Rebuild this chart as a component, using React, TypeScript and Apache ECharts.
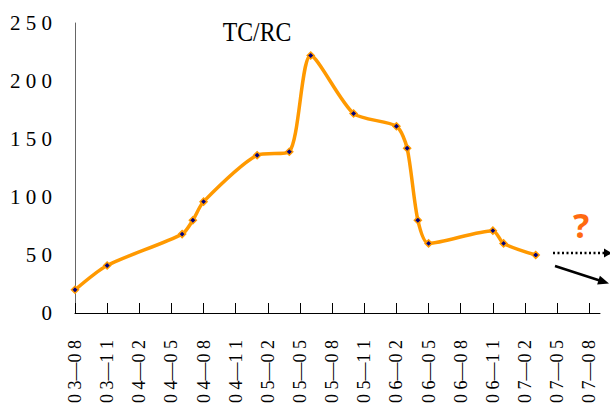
import React, { useEffect, useRef } from "react";
import * as echarts from "echarts";

// Monthly category axis, Aug 2003 through Sep 2007
const months: string[] = [];
for (let y = 3; y <= 7; y++) {
  for (let m = 1; m <= 12; m++) {
    if (y === 3 && m < 8) continue;
    if (y === 7 && m > 9) continue;
    months.push(`0${y}-${String(m).padStart(2, "0")}`);
  }
}

// Observed TC/RC readings
const pointMonths = [
  "03-08", "03-11", "04-06", "04-07", "04-08", "05-01", "05-04", "05-06",
  "05-10", "06-02", "06-03", "06-04", "06-05", "06-11", "06-12", "07-03",
];
const pointValues = [
  20, 41, 68, 80, 96, 136, 139, 222,
  172, 161, 142, 80, 60, 71, 60, 50,
];

const yTicks = { min: 0, max: 250, interval: 50 };

const serif = "Liberation Serif";

const spaced = (s: string) => s.split("").join(" ");

export default function App() {
  const ref = useRef<HTMLDivElement>(null);

  useEffect(() => {
    if (!ref.current) return;
    const chart = echarts.init(ref.current, null, { renderer: "svg" });

    // solid trend arrow geometry
    const a0 = [555, 266];
    const a1 = [609, 283.5];
    const dx = a1[0] - a0[0];
    const dy = a1[1] - a0[1];
    const len = Math.hypot(dx, dy);
    const ux = dx / len;
    const uy = dy / len;
    const headL = 11;
    const headW = 4.5;
    const bx = a1[0] - ux * headL;
    const by = a1[1] - uy * headL;

    chart.setOption({
      animation: false,
      backgroundColor: "#ffffff",
      textStyle: { fontFamily: serif },
      grid: {
        left: 75,
        right: 10,
        top: 23,
        bottom: 95,
        containLabel: false,
        outerBoundsMode: "none",
      },
      xAxis: {
        type: "category",
        data: months,
        boundaryGap: false,
        axisLine: { show: true, lineStyle: { color: "#000", width: 1 } },
        axisTick: {
          show: true,
          inside: true,
          length: 10,
          interval: 2,
          lineStyle: { color: "#000", width: 1 },
        },
        axisLabel: {
          interval: 2,
          rotate: 90,
          margin: 27,
          fontFamily: serif,
          fontSize: 18,
          color: "#000",
          formatter: (v: string) => {
            const [a, b] = v.split("-");
            return `${spaced(a)}—${spaced(b)}`;
          },
        },
        splitLine: { show: false },
      },
      yAxis: {
        type: "value",
        min: yTicks.min,
        max: yTicks.max,
        interval: yTicks.interval,
        axisLine: { show: true, lineStyle: { color: "#666", width: 1 } },
        axisTick: { show: false },
        splitLine: { show: false },
        axisLabel: {
          margin: 23,
          fontFamily: serif,
          fontSize: 21,
          color: "#000",
          formatter: (v: number) => spaced(String(v)),
        },
      },
      series: [
        {
          type: "line",
          data: pointMonths.map((m, i) => [m, pointValues[i]]),
          smooth: 0.25,
          lineStyle: { color: "#FF9900", width: 3.5 },
          symbol: "diamond",
          symbolSize: 7,
          itemStyle: { color: "#000080", borderColor: "#FF9900", borderWidth: 1.5 },
          z: 3,
        },
      ],
      graphic: [
        {
          type: "text",
          x: 257,
          y: 32,
          scaleX: 0.85,
          style: {
            text: "TC/RC",
            fontFamily: serif,
            fontSize: 28,
            fill: "#000",
            textAlign: "center",
            textVerticalAlign: "middle",
          },
        },
        {
          type: "text",
          x: 581,
          y: 225,
          style: {
            text: "?",
            fontFamily: "Noto Sans",
            fontWeight: "bold",
            fontSize: 34,
            fill: "#FF6A10",
            textAlign: "center",
            textVerticalAlign: "middle",
          },
        },
        {
          type: "line",
          shape: { x1: 553, y1: 253, x2: 604, y2: 253 },
          style: { stroke: "#000", lineWidth: 2.5, lineDash: [2, 2.5] },
        },
        {
          type: "polygon",
          shape: { points: [[604, 248.5], [612, 253], [604, 257.5]] },
          style: { fill: "#000" },
        },
        {
          type: "line",
          shape: { x1: a0[0], y1: a0[1], x2: bx + ux * 2, y2: by + uy * 2 },
          style: { stroke: "#000", lineWidth: 2.5 },
        },
        {
          type: "polygon",
          shape: {
            points: [
              [a1[0], a1[1]],
              [bx - uy * headW, by + ux * headW],
              [bx + uy * headW, by - ux * headW],
            ],
          },
          style: { fill: "#000" },
        },
      ],
    });

    return () => chart.dispose();
  }, []);

  return (
    <div
      ref={ref}
      style={{ position: "fixed", left: 0, top: 0, width: 610, height: 408 }}
    />
  );
}
